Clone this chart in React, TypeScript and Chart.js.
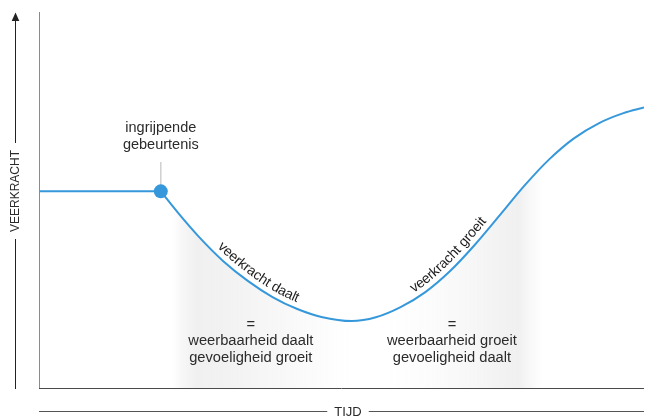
import React, { useEffect, useRef } from 'react';
import { Chart, registerables } from 'chart.js';

Chart.register(...registerables);

// ---- data (time 0..100, resilience 0..100) ----
const baselineTime = [0, 20];
const baselineLevel = [52.3, 52.3];
const curveTime = [20, 22.9, 26.2, 30.3, 34.4, 38.5, 42.6, 46.6, 51.6, 55.6, 59.7, 63.8, 67.9, 72.0, 76.1, 80.2, 84.3, 88.4, 92.5, 96.6, 100];
const curveLevel = [52.3, 46.5, 40.4, 33.8, 28.5, 24.2, 21.0, 18.9, 17.8, 18.8, 21.5, 25.5, 31.1, 38.1, 45.9, 53.8, 60.8, 66.4, 70.4, 73.1, 74.6];
const eventTime = [20];
const eventLevel = [52.3];
const eventLabel = ['ingrijpende', 'gebeurtenis'];
const eventLabelLevel = 69.1;
const eventGuideTop = 60.1;
const curveTexts = ['veerkracht daalt', 'veerkracht groeit'];
const curveTextStart = [28.6, 62.4];
const phaseX = [34.9, 68.2];
const phaseTopLevel = 16.8;
const phaseLines = [
  ['=', 'weerbaarheid daalt', 'gevoeligheid groeit'],
  ['=', 'weerbaarheid groeit', 'gevoeligheid daalt'],
];
const yTitle = 'VEERKRACHT';
const xTitle = 'TIJD';

const FONT = '"Liberation Sans", Arial, Helvetica, sans-serif';
const BLUE = '#3698da';
const TEXT = '#2b2b2b';

function samplePath(pts: any[]) {
  const out: { x: number; y: number }[] = [];
  for (let i = 0; i < pts.length - 1; i++) {
    const a = pts[i], b = pts[i + 1];
    const c1x = a.cp2x ?? a.x, c1y = a.cp2y ?? a.y;
    const c2x = b.cp1x ?? b.x, c2y = b.cp1y ?? b.y;
    const N = 30;
    for (let k = 0; k < N; k++) {
      const t = k / N, m = 1 - t;
      out.push({
        x: m * m * m * a.x + 3 * m * m * t * c1x + 3 * m * t * t * c2x + t * t * t * b.x,
        y: m * m * m * a.y + 3 * m * m * t * c1y + 3 * m * t * t * c2y + t * t * t * b.y,
      });
    }
  }
  const l = pts[pts.length - 1];
  out.push({ x: l.x, y: l.y });
  return out;
}

function drawTextOnPath(ctx: CanvasRenderingContext2D, samples: { x: number; y: number }[], text: string, startPx: number, offset: number) {
  const cum: number[] = [0];
  for (let i = 1; i < samples.length; i++) {
    cum.push(cum[i - 1] + Math.hypot(samples[i].x - samples[i - 1].x, samples[i].y - samples[i - 1].y));
  }
  let idx = samples.findIndex((p) => p.x >= startPx);
  if (idx < 0) idx = 0;
  let s = cum[idx];
  const at = (len: number) => {
    let i = 1;
    while (i < cum.length - 1 && cum[i] < len) i++;
    const a = samples[i - 1], b = samples[i];
    const seg = cum[i] - cum[i - 1] || 1;
    const f = (len - cum[i - 1]) / seg;
    const tx = (b.x - a.x) / seg, ty = (b.y - a.y) / seg;
    return { x: a.x + (b.x - a.x) * f, y: a.y + (b.y - a.y) * f, tx, ty };
  };
  for (const ch of text) {
    const w = ctx.measureText(ch).width;
    const p = at(s + w / 2);
    const nx = p.ty, ny = -p.tx;
    ctx.save();
    ctx.translate(p.x + nx * offset, p.y + ny * offset);
    ctx.rotate(Math.atan2(p.ty, p.tx));
    ctx.fillText(ch, -w / 2, 0);
    ctx.restore();
    s += w;
  }
}

const decorations = {
  id: 'decorations',
  beforeDatasetsDraw(chart: any) {
    const { ctx, scales } = chart;
    const xs = scales.x, ys = scales.y;
    ctx.save();
    const ex = xs.getPixelForValue(eventTime[0]);
    ctx.strokeStyle = '#cfcfcf';
    ctx.lineWidth = 1.5;
    ctx.beginPath();
    ctx.moveTo(ex, ys.getPixelForValue(eventGuideTop));
    ctx.lineTo(ex, ys.getPixelForValue(eventLevel[0]));
    ctx.stroke();
    ctx.restore();
  },
  afterDatasetsDraw(chart: any) {
    const { ctx, chartArea: ca, scales } = chart;
    const xs = scales.x, ys = scales.y;
    ctx.save();
    // axes
    ctx.lineWidth = 1;
    ctx.strokeStyle = '#8a8a8a';
    ctx.beginPath();
    ctx.moveTo(ca.left - 0.5, ca.top);
    ctx.lineTo(ca.left - 0.5, ca.bottom + 1);
    ctx.stroke();
    ctx.strokeStyle = '#4a4a4a';
    ctx.beginPath();
    ctx.moveTo(ca.left - 1, ca.bottom + 0.5);
    ctx.lineTo(ca.right, ca.bottom + 0.5);
    ctx.stroke();

    // y title with arrow
    const yx = 15.5;
    const yc = 191;
    ctx.font = `12px ${FONT}`;
    const tw = ctx.measureText(yTitle).width;
    ctx.strokeStyle = '#222';
    ctx.fillStyle = '#222';
    ctx.beginPath();
    ctx.moveTo(yx, 20);
    ctx.lineTo(yx, yc - tw / 2 - 7);
    ctx.moveTo(yx, yc + tw / 2 + 7);
    ctx.lineTo(yx, ca.bottom + 1);
    ctx.stroke();
    ctx.beginPath();
    ctx.moveTo(yx, 12.5);
    ctx.lineTo(yx - 3.8, 21);
    ctx.lineTo(yx + 3.8, 21);
    ctx.closePath();
    ctx.fill();
    ctx.save();
    ctx.translate(yx + 0.5, yc);
    ctx.rotate(-Math.PI / 2);
    ctx.textAlign = 'center';
    ctx.textBaseline = 'middle';
    ctx.fillStyle = TEXT;
    ctx.fillText(yTitle, 0, 0);
    ctx.restore();

    // x title
    ctx.font = `13px ${FONT}`;
    const xc = 348;
    const xy = 411.5;
    const tw2 = ctx.measureText(xTitle).width;
    ctx.strokeStyle = '#555';
    ctx.beginPath();
    ctx.moveTo(ca.left - 1, xy);
    ctx.lineTo(xc - tw2 / 2 - 7, xy);
    ctx.moveTo(xc + tw2 / 2 + 7, xy);
    ctx.lineTo(ca.right, xy);
    ctx.stroke();
    ctx.fillStyle = TEXT;
    ctx.textAlign = 'center';
    ctx.textBaseline = 'middle';
    ctx.fillText(xTitle, xc, xy + 0.5);

    // event label
    ctx.font = `14.5px ${FONT}`;
    const ex = xs.getPixelForValue(eventTime[0]);
    const ey = ys.getPixelForValue(eventLabelLevel);
    eventLabel.forEach((t, i) => ctx.fillText(t, ex, ey + i * 17));

    // phase labels
    ctx.font = `14.7px ${FONT}`;
    phaseX.forEach((px, k) => {
      const x = xs.getPixelForValue(px);
      const y0 = ys.getPixelForValue(phaseTopLevel);
      phaseLines[k].forEach((t, i) => ctx.fillText(t, x, y0 + i * 16.5));
    });

    // curve texts
    ctx.font = `14px ${FONT}`;
    const meta = chart.getDatasetMeta(2);
    const samples = samplePath(meta.data);
    ctx.textAlign = 'left';
    ctx.textBaseline = 'alphabetic';
    ctx.fillStyle = '#1e1e1e';
    curveTexts.forEach((t, i) => {
      drawTextOnPath(ctx, samples, t, xs.getPixelForValue(curveTextStart[i]), 6);
    });
    ctx.restore();
  },
};

function shadeGradient(context: any) {
  const chart = context.chart;
  const ca = chart.chartArea;
  if (!ca) return 'rgba(0,0,0,0)';
  const g = chart.ctx.createLinearGradient(ca.left, 0, ca.right, 0);
  const f = (px: number) => Math.min(1, Math.max(0, (px - ca.left) / (ca.right - ca.left)));
  const c = (a: number) => `rgba(125,125,135,${a})`;
  g.addColorStop(0, c(0));
  g.addColorStop(f(172), c(0));
  g.addColorStop(f(184), c(0.07));
  g.addColorStop(f(197), c(0.115));
  g.addColorStop(f(228), c(0.1));
  g.addColorStop(f(280), c(0.055));
  g.addColorStop(f(330), c(0.015));
  g.addColorStop(f(352), c(0));
  g.addColorStop(f(385), c(0));
  g.addColorStop(f(430), c(0.025));
  g.addColorStop(f(475), c(0.065));
  g.addColorStop(f(508), c(0.105));
  g.addColorStop(f(519), c(0.115));
  g.addColorStop(f(530), c(0.055));
  g.addColorStop(f(542), c(0));
  g.addColorStop(1, c(0));
  return g;
}

export default function App() {
  const ref = useRef<HTMLCanvasElement | null>(null);
  useEffect(() => {
    if (!ref.current) return;
    const chart = new Chart(ref.current, {
      type: 'line',
      data: {
        datasets: [
          {
            label: 'gebeurtenis',
            data: eventTime.map((x, i) => ({ x, y: eventLevel[i] })),
            showLine: false,
            pointRadius: 7,
            pointBackgroundColor: BLUE,
            pointBorderWidth: 0,
            borderColor: BLUE,
          },
          {
            label: 'basis',
            data: baselineTime.map((x, i) => ({ x, y: baselineLevel[i] })),
            borderColor: BLUE,
            borderWidth: 2,
            pointRadius: 0,
            fill: false,
          },
          {
            label: 'veerkracht',
            data: curveTime.map((x, i) => ({ x, y: curveLevel[i] })),
            borderColor: BLUE,
            borderWidth: 2,
            pointRadius: 0,
            cubicInterpolationMode: 'monotone',
            fill: 'start',
            backgroundColor: shadeGradient,
          },
        ],
      },
      options: {
        responsive: false,
        animation: false,
        events: [],
        layout: { padding: { left: 40, right: 0, top: 12, bottom: 29 } },
        scales: {
          x: { type: 'linear', min: 0, max: 100, display: false },
          y: { type: 'linear', min: 0, max: 100, display: false },
        },
        plugins: { legend: { display: false }, tooltip: { enabled: false } },
      },
      plugins: [decorations],
    });
    return () => chart.destroy();
  }, []);
  return (
    <div style={{ position: 'absolute', left: 0, top: 0, width: 651, height: 417, background: '#fff' }}>
      <canvas ref={ref} width={651} height={417} style={{ display: 'block' }} />
    </div>
  );
}
